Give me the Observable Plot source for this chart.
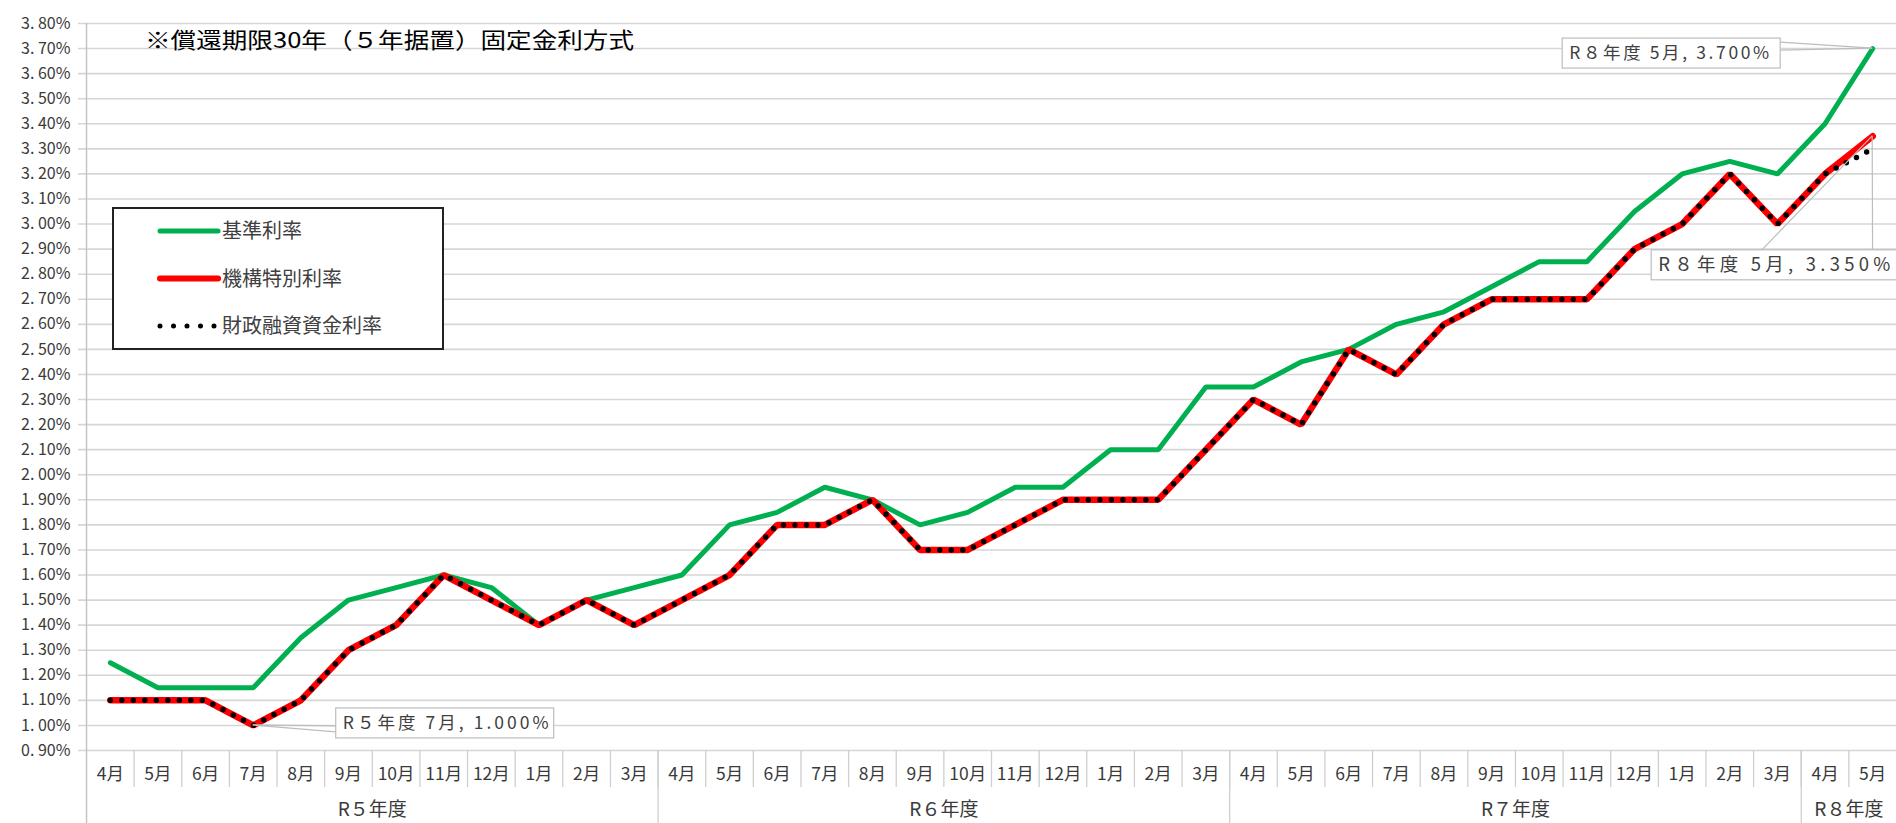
<!DOCTYPE html>
<html><head><meta charset="utf-8">
<script src="https://cdn.jsdelivr.net/npm/d3@7"></script>
<script src="https://cdn.jsdelivr.net/npm/@observablehq/plot@0.6"></script>
<style>
html,body{margin:0;padding:0;background:#fff;overflow:hidden}
#chart{position:relative;width:1896px;height:823px}
</style></head><body><div id="chart"></div>
<script>
// ---- data ----
const months = ["4月","5月","6月","7月","8月","9月","10月","11月","12月","1月","2月","3月",
                "4月","5月","6月","7月","8月","9月","10月","11月","12月","1月","2月","3月",
                "4月","5月","6月","7月","8月","9月","10月","11月","12月","1月","2月","3月",
                "4月","5月"];
const fiscalYears = ["R５年度","R６年度","R７年度","R８年度"];
const fiscalYearMonths = [12, 12, 12, 2];
const seriesNames = ["基準利率", "機構特別利率", "財政融資資金利率"];
const kijun = [1.25,1.15,1.15,1.15,1.35,1.50,1.55,1.60,1.55,1.40,1.50,1.55,
               1.60,1.80,1.85,1.95,1.90,1.80,1.85,1.95,1.95,2.10,2.10,2.35,
               2.35,2.45,2.50,2.60,2.65,2.75,2.85,2.85,3.05,3.20,3.25,3.20,
               3.40,3.70];
const kikou = [1.10,1.10,1.10,1.00,1.10,1.30,1.40,1.60,1.50,1.40,1.50,1.40,
               1.50,1.60,1.80,1.80,1.90,1.70,1.70,1.80,1.90,1.90,1.90,2.10,
               2.30,2.20,2.50,2.40,2.60,2.70,2.70,2.70,2.90,3.00,3.20,3.00,
               3.20,3.35];
const zaito = [1.10,1.10,1.10,1.00,1.10,1.30,1.40,1.60,1.50,1.40,1.50,1.40,
               1.50,1.60,1.80,1.80,1.90,1.70,1.70,1.80,1.90,1.90,1.90,2.10,
               2.30,2.20,2.50,2.40,2.60,2.70,2.70,2.70,2.90,3.00,3.20,3.00,
               3.20,3.30];
const yTickValues = [0.9,1.0,1.1,1.2,1.3,1.4,1.5,1.6,1.7,1.8,1.9,2.0,2.1,2.2,2.3,2.4,
                     2.5,2.6,2.7,2.8,2.9,3.0,3.1,3.2,3.3,3.4,3.5,3.6,3.7,3.8];
const title = "※償還期限30年（５年据置）固定金利方式";
const callouts = [
  {i: 3, values: kikou, text: "R５年度 7月, 1.000%"},
  {i: 37, values: kijun, text: "R８年度 5月, 3.700%"},
  {i: 37, values: kikou, text: "R８年度 5月, 3.350%"}
];

// ---- derived tables ----
const idx = months.map((_, i) => i);
const rows = idx.map(i => ({i, kijun: kijun[i], kikou: kikou[i], zaito: zaito[i]}));
const monthSeps = idx.slice(1).map(i => i - 0.5);
let acc = -0.5;
const yearSeps = [acc], yearCenters = [];
fiscalYearMonths.forEach(n => { yearCenters.push(acc + n / 2); acc += n; yearSeps.push(acc); });
const fmtY = v => v.toFixed(2).replace(".", ". ") + "%";
const FONT = '"Noto Sans CJK JP","Noto Sans",sans-serif';
const GREEN = "#00b050", RED = "#ff0000";

const chart = Plot.plot({
  width: 1896, height: 823,
  marginTop: 23, marginBottom: 73, marginLeft: 86, marginRight: 0,
  style: {fontFamily: FONT, background: "#fff", color: "#3a3a3a", overflow: "visible"},
  x: {domain: [-0.5, months.length - 0.5], axis: null},
  y: {domain: [0.9, 3.8], axis: null},
  marks: [
    Plot.ruleY(yTickValues, {stroke: "#d6d6d6", strokeWidth: 1.6, insetLeft: -8}),
    Plot.ruleX([yearSeps[0]], {stroke: "#c4c4c4", strokeWidth: 1.5, insetBottom: -73}),
    Plot.ruleX(monthSeps, {stroke: "#cfcfcf", strokeWidth: 1.3, insetTop: 727, insetBottom: -37}),
    Plot.ruleX(yearSeps.slice(1, -1), {stroke: "#cfcfcf", strokeWidth: 1.3, insetTop: 727, insetBottom: -73}),
    Plot.axisY({ticks: yTickValues, tickSize: 0, tickPadding: 16, tickFormat: fmtY, fontSize: 16, label: null}),
    Plot.axisX({ticks: idx, tickSize: 0, tickPadding: 17, tickFormat: i => months[i], fontSize: 17.5, label: null}),
    Plot.axisX({ticks: yearCenters, tickSize: 0, tickPadding: 52, tickFormat: (d, k) => fiscalYears[k], fontSize: 19, letterSpacing: 2, label: null}),
    Plot.line(rows, {x: "i", y: "kijun", stroke: GREEN, strokeWidth: 5, strokeLinejoin: "miter"}),
    Plot.line(rows, {x: "i", y: "kikou", stroke: RED, strokeWidth: 6.5, strokeLinejoin: "miter"}),
    Plot.line(rows, {x: "i", y: "zaito", stroke: "#000", strokeWidth: 5.5, strokeDasharray: "0 11.5", strokeLinecap: "round"})
  ]
});
document.getElementById("chart").append(chart);

// ---- overlays (title, legend, callouts) ----
const svg = d3.select(chart);
const sx = chart.scale("x"), sy = chart.scale("y");

svg.append("text").attr("x", 145).attr("y", 40).attr("dy", "0.35em").attr("text-anchor", "start")
  .attr("font-size", 22).attr("fill", "#000").attr("font-family", FONT)
  .attr("textLength", 489).attr("lengthAdjust", "spacingAndGlyphs").text(title);

const lg = svg.append("g").attr("font-family", FONT).attr("text-anchor", "start");
lg.append("rect").attr("x", 113).attr("y", 208).attr("width", 330).attr("height", 141)
  .attr("fill", "#fff").attr("stroke", "#222").attr("stroke-width", 2);
const legendStyles = [
  {stroke: GREEN, w: 5, dash: "none"},
  {stroke: RED, w: 6, dash: "none"},
  {stroke: "#000", w: 5, dash: "0 13.5"}
];
seriesNames.forEach((name, k) => {
  const y = 231 + k * 47.5;
  const st = legendStyles[k];
  lg.append("line").attr("x1", 160).attr("x2", 218).attr("y1", y).attr("y2", y)
    .attr("stroke", st.stroke).attr("stroke-width", st.w).attr("stroke-linecap", "round")
    .attr("stroke-dasharray", st.dash);
  lg.append("text").attr("x", 222).attr("y", y).attr("dy", "0.35em").attr("font-size", 20)
    .attr("fill", "#404040").text(name);
});

const boxes = [
  {dx: 192, dy: -2, w: 218, h: 30, anchor: "left", tl: 206, fs: 17.5},
  {dx: -201, dy: 5, w: 218, h: 30, anchor: "right", tl: 200, fs: 17.5},
  {dx: -98, dy: 129, w: 246, h: 30, anchor: "top", tl: 232, fs: 18.5}
];
callouts.forEach((c, k) => {
  const px = sx.apply(c.i), py = sy.apply(c.values[c.i]);
  const b = boxes[k];
  const cx = px + b.dx, cy = py + b.dy;
  const x0 = cx - b.w / 2, y0 = cy - b.h / 2;
  const g = svg.append("g").attr("font-family", FONT).attr("text-anchor", "start");
  let ends;
  if (b.anchor === "left") ends = [[x0, cy + 3], [x0, cy + 9]];
  else if (b.anchor === "right") ends = [[x0 + b.w, y0 + 4], [x0 + b.w, y0 + 12]];
  else ends = [[x0 + b.w * 0.45, y0], [x0 + b.w * 0.9, y0]];
  ends.forEach(([ex, ey]) => g.append("line").attr("x1", px).attr("y1", py).attr("x2", ex).attr("y2", ey)
    .attr("stroke", "#bdbdbd").attr("stroke-width", 1.2));
  g.append("rect").attr("x", x0).attr("y", y0).attr("width", b.w).attr("height", b.h)
    .attr("fill", "#fff").attr("stroke", "#bdbdbd").attr("stroke-width", 1.2);
  g.append("text").attr("x", x0 + 7).attr("y", cy).attr("dy", "0.35em").attr("font-size", b.fs)
    .attr("fill", "#404040").attr("textLength", b.tl).attr("lengthAdjust", "spacing").text(c.text);
});
</script></body></html>
